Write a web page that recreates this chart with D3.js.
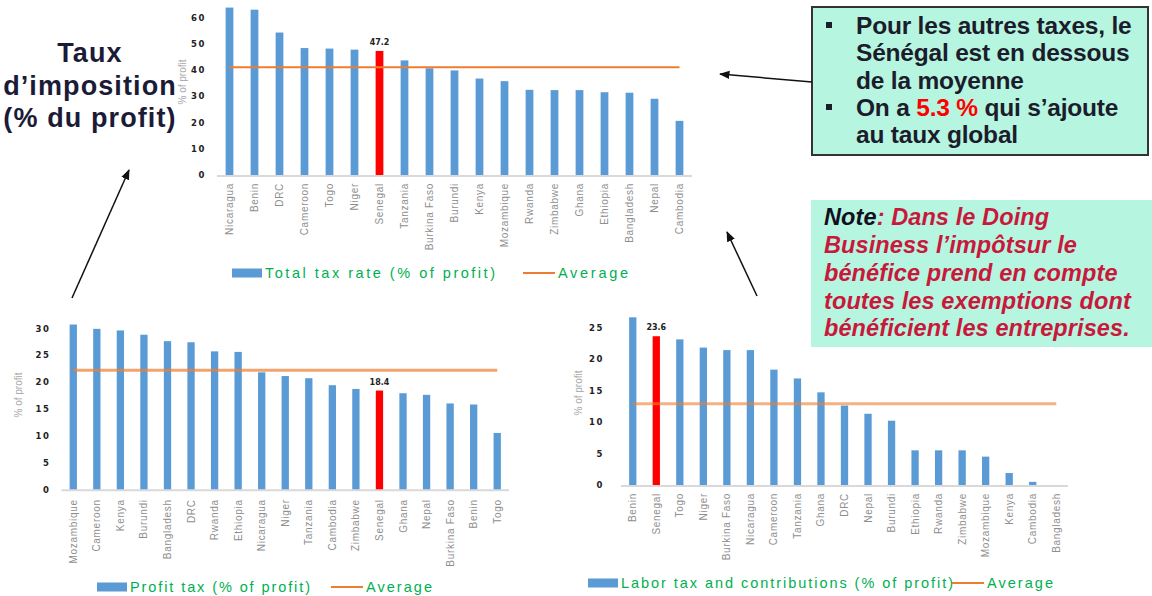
<!DOCTYPE html>
<html>
<head>
<meta charset="utf-8">
<script src="https://cdn.jsdelivr.net/npm/d3@7/dist/d3.min.js"></script>
<style>
  html, body { margin: 0; padding: 0; background: #fff; }
  svg { display: block; }
</style>
</head>
<body>
<svg id="chart" width="1152" height="596"></svg>
<script>
// ---- Data ----
const totalCategories = ["Nicaragua","Benin","DRC","Cameroon","Togo","Niger","Senegal","Tanzania","Burkina Faso","Burundi","Kenya","Mozambique","Rwanda","Zimbabwe","Ghana","Ethiopia","Bangladesh","Nepal","Cambodia"];
const totalValues = [63.7,62.9,54.2,48.3,48.1,47.7,47.2,43.6,40.6,39.8,36.7,35.7,32.4,32.3,32.3,31.5,31.3,29.0,20.6];
const totalAverage = 41.0;
const totalTicks = [0,10,20,30,40,50,60];

const profitCategories = ["Mozambique","Cameroon","Kenya","Burundi","Bangladesh","DRC","Rwanda","Ethiopia","Nicaragua","Niger","Tanzania","Cambodia","Zimbabwe","Senegal","Ghana","Nepal","Burkina Faso","Benin","Togo"];
const profitValues = [30.7,29.9,29.6,28.8,27.6,27.4,25.7,25.6,21.8,21.1,20.7,19.4,18.7,18.4,17.9,17.6,16.0,15.8,10.5];
const profitAverage = 22.2;
const profitTicks = [0,5,10,15,20,25,30];

const laborCategories = ["Benin","Senegal","Togo","Niger","Burkina Faso","Nicaragua","Cameroon","Tanzania","Ghana","DRC","Nepal","Burundi","Ethiopia","Rwanda","Zimbabwe","Mozambique","Kenya","Cambodia","Bangladesh"];
const laborValues = [26.6,23.6,23.1,21.8,21.4,21.4,18.3,16.9,14.7,12.6,11.3,10.2,5.5,5.5,5.5,4.5,1.9,0.5,0];
const laborAverage = 12.9;
const laborTicks = [0,5,10,15,20,25];

const highlight = "Senegal";

// ---- Drawing ----
const svg = d3.select("#chart");
const BLUE = "#5b9bd5", RED = "#ff0000", ORANGE = "#ed7d31", GREEN = "#00b050";

svg.append("defs").append("marker")
  .attr("id", "arrow").attr("viewBox", "0 0 10 10")
  .attr("refX", 9).attr("refY", 5)
  .attr("markerWidth", 7).attr("markerHeight", 7)
  .attr("orient", "auto-start-reverse")
  .append("path").attr("d", "M0,1 L10,5 L0,9 Z").attr("fill", "#111");

function panel(o) {
  const g = svg.append("g");
  const x = d3.scaleBand().domain(o.categories).range(o.xRange)
    .paddingInner(0.69).paddingOuter(0.345);
  const y = d3.scaleLinear().domain(o.yDomain).range(o.yRange);
  const y0 = y(0);

  // baseline
  g.append("line")
    .attr("x1", o.xRange[0]).attr("x2", o.xRange[1])
    .attr("y1", y0 + 1).attr("y2", y0 + 1)
    .attr("stroke", "#d9d9d9").attr("stroke-width", 2);

  // y axis labels
  const ya = g.append("g")
    .attr("transform", `translate(${o.xRange[0]},0)`)
    .call(d3.axisLeft(y).tickValues(o.ticks).tickSize(0).tickPadding(o.tickPad));
  ya.select(".domain").remove();
  ya.selectAll("text")
    .attr("font-family", "DejaVu Sans, sans-serif")
    .attr("font-size", 8.5).attr("font-weight", "bold")
    .attr("letter-spacing", "1.6px").attr("fill", "#222");

  // x axis labels
  const xa = g.append("g")
    .attr("transform", `translate(0,${y0})`)
    .call(d3.axisBottom(x).tickSize(0));
  xa.select(".domain").remove();
  xa.selectAll("text")
    .attr("transform", "rotate(-90)")
    .attr("x", -o.labelGap).attr("y", 0).attr("dy", "0.35em")
    .style("text-anchor", "end")
    .attr("font-family", "Liberation Sans, Arial, sans-serif")
    .attr("font-size", 10).attr("letter-spacing", "0.7px")
    .attr("fill", "#8e8e8e");

  // bars
  g.selectAll("rect.bar").data(o.categories.map((c, i) => ({c, v: o.values[i]})))
    .join("rect").attr("class", "bar")
    .attr("x", d => x(d.c)).attr("width", x.bandwidth())
    .attr("y", d => y(d.v)).attr("height", d => y0 - y(d.v))
    .attr("fill", d => d.c === highlight ? RED : BLUE);

  // value label on highlighted bar
  const hi = o.categories.indexOf(highlight);
  g.append("text")
    .attr("x", x(highlight) + x.bandwidth() / 2)
    .attr("y", y(o.values[hi]) - 6)
    .attr("text-anchor", "middle")
    .attr("font-family", "DejaVu Sans, sans-serif")
    .attr("font-size", 8).attr("font-weight", "bold").attr("fill", "#222")
    .text(d3.format(".1f")(o.values[hi]));

  // average line
  const first = o.categories[0], last = o.categories[o.categories.length - 1];
  g.append("line")
    .attr("x1", x(first) + x.bandwidth() / 2)
    .attr("x2", x(last) + x.bandwidth() / 2)
    .attr("y1", y(o.average)).attr("y2", y(o.average))
    .attr("stroke", ORANGE).attr("stroke-width", o.avgWidth)
    .attr("stroke-opacity", o.avgOpacity);

  // y title
  g.append("text")
    .attr("transform", `translate(${o.yTitle[0]},${o.yTitle[1]}) rotate(-90)`)
    .attr("text-anchor", "middle").attr("dy", "0.35em")
    .attr("font-family", "Liberation Sans, Arial, sans-serif")
    .attr("font-size", 10).attr("fill", "#a6a6a6")
    .text("% of profit");

  // legend
  const L = o.legend;
  g.append("rect").attr("x", L.x).attr("y", L.y - 4.5)
    .attr("width", 30).attr("height", 9).attr("fill", BLUE);
  g.append("text").attr("x", L.x + 33).attr("y", L.y).attr("dy", "0.35em")
    .attr("font-family", "Liberation Sans, Arial, sans-serif")
    .attr("font-size", 14.5).attr("fill", GREEN)
    .attr("textLength", L.textW).attr("lengthAdjust", "spacing")
    .text(L.label);
  g.append("line").attr("x1", L.lineX).attr("x2", L.lineX + 32)
    .attr("y1", L.y).attr("y2", L.y)
    .attr("stroke", ORANGE).attr("stroke-width", 2);
  g.append("text").attr("x", L.lineX + 35).attr("y", L.y).attr("dy", "0.35em")
    .attr("font-family", "Liberation Sans, Arial, sans-serif")
    .attr("font-size", 14.5).attr("fill", GREEN)
    .attr("textLength", L.avgW).attr("lengthAdjust", "spacing")
    .text("Average");
}

panel({
  categories: totalCategories, values: totalValues, average: totalAverage,
  ticks: totalTicks, yDomain: [0, 60], yRange: [175, 17.3],
  xRange: [217, 692], tickPad: 11, labelGap: 8,
  avgWidth: 2, avgOpacity: 1, yTitle: [182, 82],
  legend: {x: 232, y: 273, textW: 230, lineX: 523, avgW: 70, label: "Total tax rate (% of profit)"}
});

panel({
  categories: profitCategories, values: profitValues, average: profitAverage,
  ticks: profitTicks, yDomain: [0, 30], yRange: [489.3, 328.3],
  xRange: [61.5, 509], tickPad: 11, labelGap: 10,
  avgWidth: 3, avgOpacity: 0.7, yTitle: [18, 395],
  legend: {x: 97, y: 587, textW: 180, lineX: 331, avgW: 66, label: "Profit tax (% of profit)"}
});

panel({
  categories: laborCategories, values: laborValues, average: laborAverage,
  ticks: laborTicks, yDomain: [0, 25], yRange: [485, 327.4],
  xRange: [621, 1068], tickPad: 17, labelGap: 8,
  avgWidth: 3, avgOpacity: 0.6, yTitle: [578, 393],
  legend: {x: 588, y: 583, textW: 332, lineX: 952, avgW: 66, label: "Labor tax and contributions (% of profit)"}
});

// ---- Heading on the left ----
const head = svg.append("text")
  .attr("text-anchor", "middle")
  .attr("font-family", "Liberation Sans, Arial, sans-serif")
  .attr("font-size", 27).attr("font-weight", "bold")
  .attr("letter-spacing", "1.1px").attr("fill", "#1b1b38");
[["Taux", 62], ["d\u2019imposition", 95], ["(% du profit)", 127]].forEach(([t, yy]) =>
  head.append("tspan").attr("x", 90).attr("y", yy).text(t));

// ---- Box with bullet points ----
svg.append("rect").attr("x", 812).attr("y", 7).attr("width", 336).attr("height", 148)
  .attr("fill", "#b6f6e0").attr("stroke", "#333").attr("stroke-width", 2);
const bullets = [
  {y: 25, parts: [["Pour les autres taxes, le"]], bullet: true},
  {y: 52, parts: [["Sénégal est en dessous"]]},
  {y: 80, parts: [["de la moyenne"]]},
  {y: 107, parts: [["On a "], ["5.3 %", RED], [" qui s\u2019ajoute"]], bullet: true},
  {y: 134, parts: [["au taux global"]]}
];
bullets.forEach(b => {
  if (b.bullet) {
    svg.append("rect").attr("x", 826).attr("y", b.y - 3).attr("width", 6).attr("height", 6).attr("fill", "#1c1c2c");
  }
  const t = svg.append("text").attr("x", 856).attr("y", b.y).attr("dy", "0.35em")
    .attr("font-family", "Liberation Sans, Arial, sans-serif")
    .attr("font-size", 24.5).attr("font-weight", "bold")
    .attr("letter-spacing", "-0.2px").attr("fill", "#1c1c2c");
  b.parts.forEach(([s, c]) => t.append("tspan").attr("fill", c || "#1c1c2c").text(s));
});

// ---- Note box ----
svg.append("rect").attr("x", 811).attr("y", 200).attr("width", 341).attr("height", 147)
  .attr("fill", "#b6f6e0");
const noteLines = [
  [["Note", "#10101e"], [": Dans le Doing"]],
  [["Business l\u2019impôtsur le"]],
  [["bénéfice prend en compte"]],
  [["toutes les exemptions dont"]],
  [["bénéficient les entreprises."]]
];
noteLines.forEach((parts, i) => {
  const t = svg.append("text").attr("x", 824).attr("y", 217 + i * 27.8).attr("dy", "0.35em")
    .attr("font-family", "Liberation Sans, Arial, sans-serif")
    .attr("font-size", 23.5).attr("font-weight", "bold").attr("font-style", "italic")
    .attr("letter-spacing", "0.1px");
  parts.forEach(([s, c]) => t.append("tspan").attr("fill", c || "#c8193c").text(s));
});

// ---- Arrows ----
const arrows = [
  [[812, 82], [720, 74]],
  [[72, 298], [129, 170]],
  [[757, 296], [727, 232]]
];
arrows.forEach(([a, b]) => {
  svg.append("line").attr("x1", a[0]).attr("y1", a[1]).attr("x2", b[0]).attr("y2", b[1])
    .attr("stroke", "#111").attr("stroke-width", 1.5).attr("marker-end", "url(#arrow)");
});
</script>
</body>
</html>
